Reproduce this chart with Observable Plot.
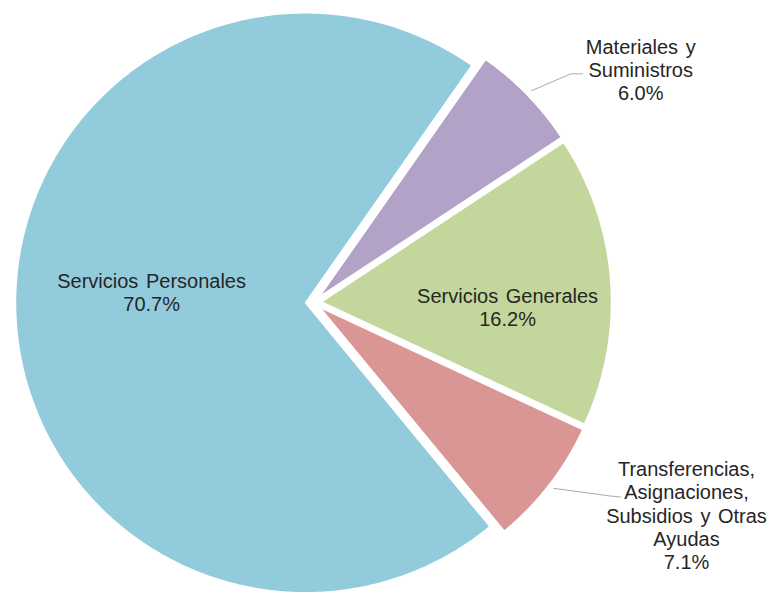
<!DOCTYPE html>
<html>
<head>
<meta charset="utf-8">
<script src="https://cdn.jsdelivr.net/npm/d3@7"></script>
<script src="https://cdn.jsdelivr.net/npm/@observablehq/plot@0.6"></script>
<style>
  html, body { margin: 0; padding: 0; background: #fff; }
  #chart { width: 772px; height: 595px; }
  svg text { word-spacing: 2px; }
</style>
</head>
<body>
<div id="chart"></div>
<script>
// ---- data ----
const categories = [
  "Servicios Personales",
  "Materiales y Suministros",
  "Servicios Generales",
  "Transferencias, Asignaciones, Subsidios y Otras Ayudas"
];
const values = [70.7, 6.0, 16.2, 7.1];
const labelTexts = [
  "Servicios Personales",
  "Materiales y\nSuministros",
  "Servicios Generales",
  "Transferencias,\nAsignaciones,\nSubsidios y Otras\nAyudas"
];
const percentTexts = ["70.7%", "6.0%", "16.2%", "7.1%"];
const colors = ["#92CBDC", "#B2A2C8", "#C3D69B", "#D99694"];

// ---- layout ----
const W = 772, H = 595;
const cx = 313, cy = 302;     // pie centre in pixels
const R = 290;                // radius
const explode = 8;            // every slice pulled out a little
const startAngle = -219.5;    // degrees, clockwise from 12 o'clock
// label placement relative to each slice (radius factor, angle offset in degrees)
const labelLayout = [
  {rf: 0.532, dA: 6.3, leader: null},
  {rf: 1.358, dA: 8.9, leader: [[-70, 4.4], [-58, 4.4]]},
  {rf: 0.642, dA: 5.75, leader: null},
  {rf: 1.453, dA: -8.2, leader: [[-76, -19], [-66, -18]]}
];

const rad = (d) => d * Math.PI / 180;
const polar = (a, r) => [r * Math.sin(rad(a)), -r * Math.cos(rad(a))];

const total = d3.sum(values);
let a = startAngle;
const slices = values.map((v, i) => {
  const a0 = a, a1 = a + (v / total) * 360;
  a = a1;
  const mid = (a0 + a1) / 2;
  const [ox, oy] = polar(mid, explode);
  return {i, cat: categories[i], a0, a1, mid, ox, oy};
});

// polygon rows for each slice
const rows = [];
for (const s of slices) {
  rows.push({cat: s.cat, x: s.ox, y: s.oy});
  const n = Math.max(2, Math.ceil((s.a1 - s.a0) / 0.5));
  for (let k = 0; k <= n; k++) {
    const ang = s.a0 + (s.a1 - s.a0) * k / n;
    const [px, py] = polar(ang, R);
    rows.push({cat: s.cat, x: s.ox + px, y: s.oy + py});
  }
  rows.push({cat: s.cat, x: s.ox, y: s.oy});
}

// labels
const labels = slices.map((s) => {
  const L = labelLayout[s.i];
  const [px, py] = polar(s.mid + L.dA, L.rf * R);
  return {
    cat: s.cat,
    x: s.ox + px,
    y: s.oy + py,
    text: labelTexts[s.i] + "\n" + percentTexts[s.i]
  };
});

// leader lines
const leaders = [];
for (const s of slices) {
  const L = labelLayout[s.i];
  if (!L.leader) continue;
  const lab = labels[s.i];
  const [sx, sy] = polar(s.mid, R * 1.02);
  leaders.push({cat: s.cat, x: s.ox + sx, y: s.oy + sy});
  for (const [dx, dy] of L.leader) leaders.push({cat: s.cat, x: lab.x + dx, y: lab.y + dy});
}

const chart = Plot.plot({
  width: W,
  height: H,
  margin: 0,
  x: {domain: [-cx, W - cx], range: [0, W], axis: null},
  y: {domain: [-cy, H - cy], range: [0, H], axis: null},
  color: {domain: categories, range: colors},
  style: {background: "#fff", fontFamily: "'Liberation Sans', Arial, sans-serif"},
  marks: [
    Plot.line(rows, {x: "x", y: "y", z: "cat", fill: "cat", stroke: "white", strokeWidth: 1.5, curve: "linear"}),
    Plot.line(leaders, {x: "x", y: "y", z: "cat", stroke: "#ababab", strokeWidth: 1, curve: "linear"}),
    Plot.text(labels, {
      x: "x", y: "y", text: "text",
      fontSize: 20, lineHeight: 1.17, lineAnchor: "middle", textAnchor: "middle",
      fill: "#262626", fontFamily: "'Liberation Sans', Arial, sans-serif"
    })
  ]
});
document.getElementById("chart").appendChild(chart);
</script>
</body>
</html>
